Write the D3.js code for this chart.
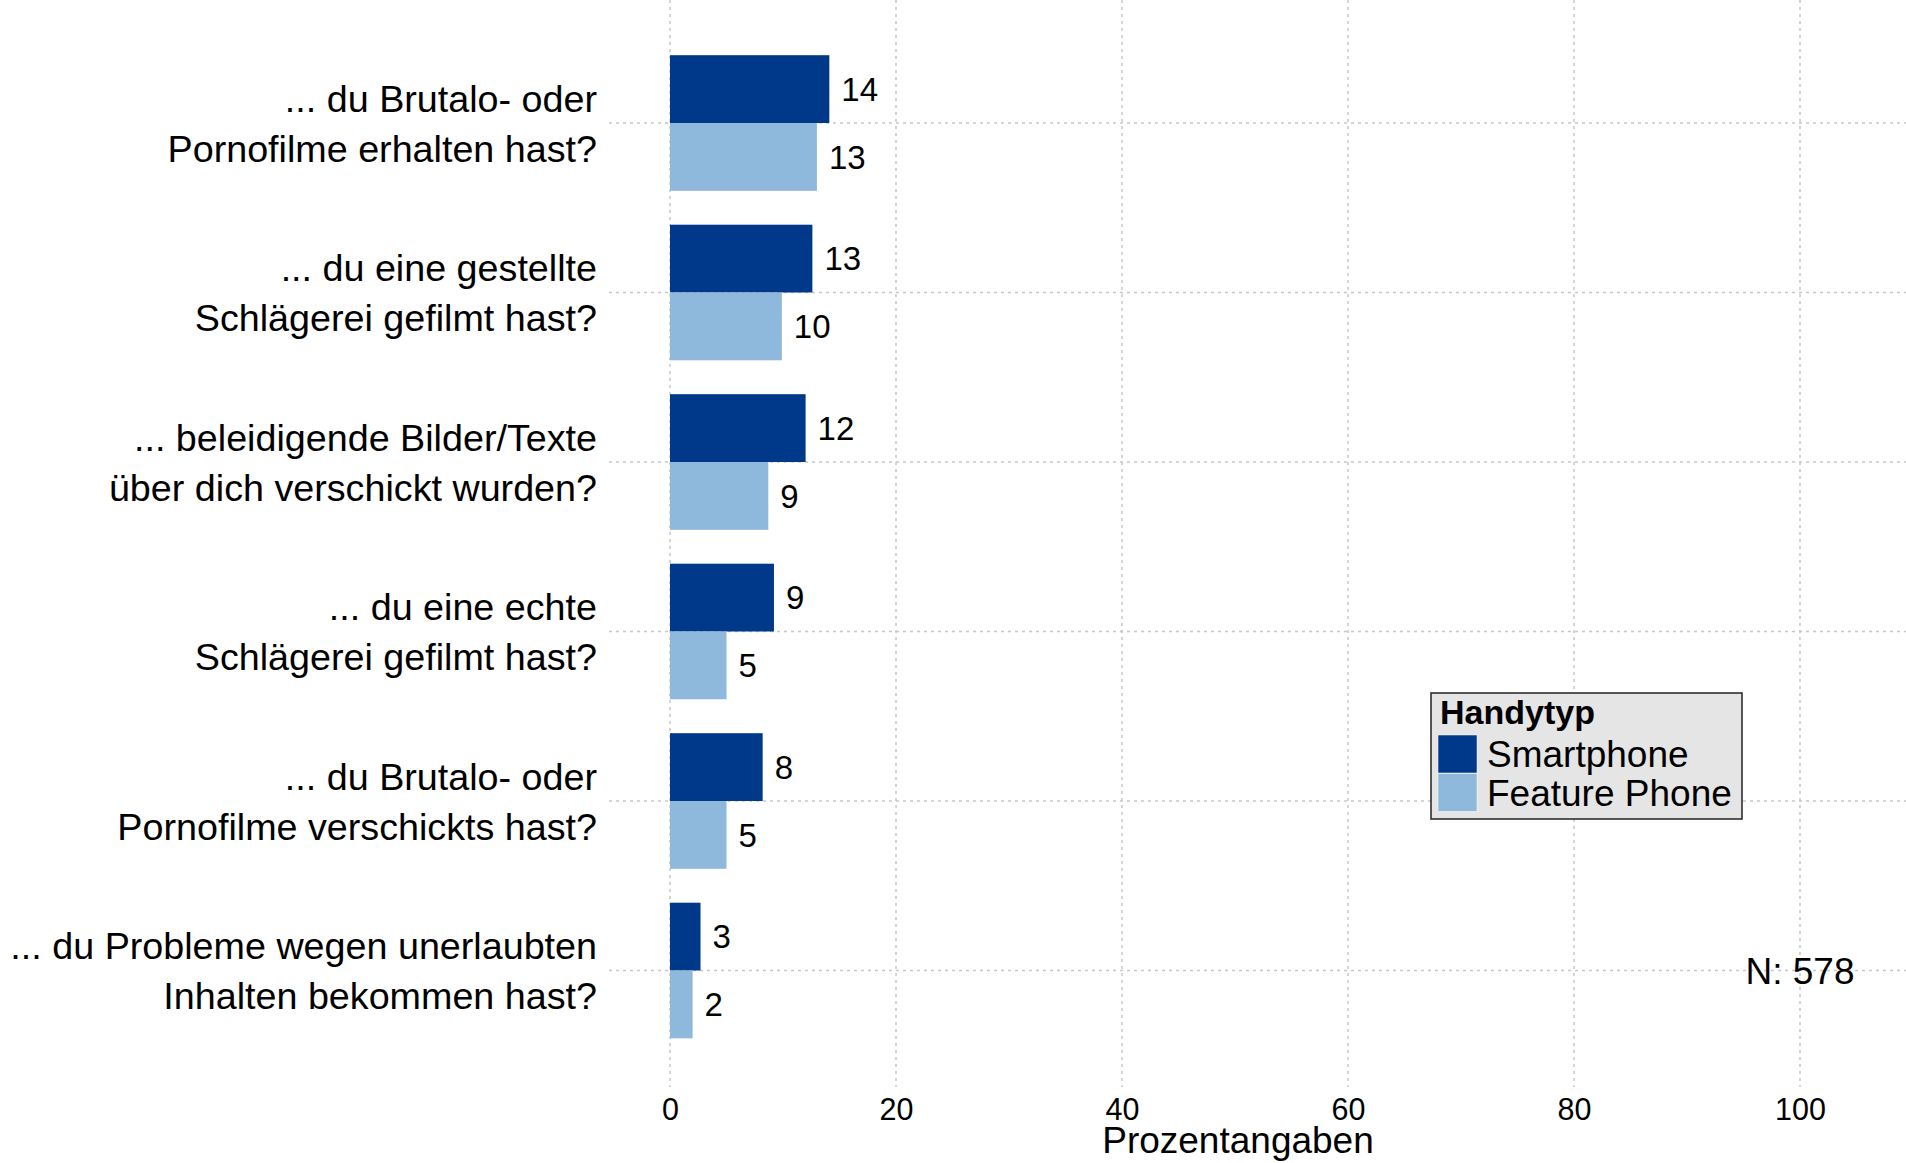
<!DOCTYPE html>
<html>
<head>
<meta charset="utf-8">
<script src="https://cdn.jsdelivr.net/npm/d3@7"></script>
<style>
  body { margin: 0; background: #fff; }
  svg text { font-family: "Liberation Sans", Arial, sans-serif; fill: #000; }
  .grid line { stroke: #c8c8c8; stroke-width: 1.5; stroke-dasharray: 3,4; }
</style>
</head>
<body>
<svg id="chart" width="1906" height="1163"></svg>
<script>
// Data
const questions = [
  ["... du Brutalo- oder", "Pornofilme erhalten hast?"],
  ["... du eine gestellte", "Schlägerei gefilmt hast?"],
  ["... beleidigende Bilder/Texte", "über dich verschickt wurden?"],
  ["... du eine echte", "Schlägerei gefilmt hast?"],
  ["... du Brutalo- oder", "Pornofilme verschickts hast?"],
  ["... du Probleme wegen unerlaubten", "Inhalten bekommen hast?"]
];
const smartphone = [14.1, 12.6, 12.0, 9.2, 8.2, 2.7];
const featurePhone = [13.0, 9.9, 8.7, 5.0, 5.0, 2.0];
const seriesNames = ["Smartphone", "Feature Phone"];
const seriesColors = ["#00388a", "#8eb9dd"];
const xTicks = [0, 20, 40, 60, 80, 100];
const sampleNote = "N: 578";

/*** Layout ***/
const svg = d3.select("#chart");
const W = 1906, H = 1163;
const panel = {left: 609, right: W, top: 0, bottom: 1087};

const x = d3.scaleLinear().domain([0, 100]).range([670, 1800]);
const y = d3.scaleBand()
    .domain(d3.range(questions.length))
    .range([38.25, 1055.25])
    .paddingInner(0.2)
    .paddingOuter(0.1);
const ySub = d3.scaleBand().domain([0, 1]).range([0, y.bandwidth()]);

const rows = questions.map((q, i) => ({
  i: i,
  label: q,
  values: [smartphone[i], featurePhone[i]]
}));

// Grid
const grid = svg.append("g").attr("class", "grid");
grid.selectAll(".v").data(xTicks).enter()
    .append("line")
        .attr("x1", d => x(d)).attr("x2", d => x(d))
        .attr("y1", panel.top).attr("y2", panel.bottom);
grid.selectAll(".h").data(rows).enter()
    .append("line")
        .attr("x1", panel.left).attr("x2", panel.right)
        .attr("y1", d => y(d.i) + y.bandwidth() / 2)
        .attr("y2", d => y(d.i) + y.bandwidth() / 2);

// Bars
const group = svg.selectAll(".row").data(rows).enter()
    .append("g")
        .attr("class", "row")
        .attr("transform", d => "translate(0," + y(d.i) + ")");
group.selectAll("rect")
    .data(d => d.values.map((v, s) => ({v: v, s: s})))
    .enter().append("rect")
        .attr("x", x(0))
        .attr("y", d => ySub(d.s))
        .attr("width", d => x(d.v) - x(0))
        .attr("height", ySub.bandwidth())
        .attr("fill", d => seriesColors[d.s]);
group.selectAll(".val")
    .data(d => d.values.map((v, s) => ({v: v, s: s})))
    .enter().append("text")
        .attr("class", "val")
        .attr("x", d => x(d.v) + 12)
        .attr("y", d => ySub(d.s) + ySub.bandwidth() / 2)
        .attr("dy", "0.36em")
        .style("font-size", "33px")
        .text(d => Math.round(d.v));

// Category labels (two lines each)
group.append("text")
    .attr("text-anchor", "end")
    .style("font-size", "37.7px")
    .selectAll("tspan")
    .data(d => d.label)
    .enter().append("tspan")
        .attr("x", 597)
        .attr("y", (d, k) => y.bandwidth() / 2 - 11 + k * 50)
        .text(d => d);

// X axis
const axis = svg.append("g")
    .attr("transform", "translate(0," + panel.bottom + ")")
    .call(d3.axisBottom(x).tickValues(xTicks).tickSize(0));
axis.select(".domain").remove();
axis.selectAll("text")
    .attr("y", 33)
    .attr("dy", null)
    .style("font-size", "30.5px")
    .style("font-family", "'Liberation Sans', Arial, sans-serif")
    .attr("fill", "#000");

svg.append("text")
    .attr("x", (x(0) + x(100)) / 2 + 3)
    .attr("y", 1153)
    .attr("text-anchor", "middle")
    .style("font-size", "37px")
    .text("Prozentangaben");

// Sample size note
svg.append("text")
    .attr("x", x(100))
    .attr("y", y(questions.length - 1) + y.bandwidth() / 2)
    .attr("dy", "0.36em")
    .attr("text-anchor", "middle")
    .style("font-size", "37px")
    .text(sampleNote);

// Legend
const legend = svg.append("g").attr("transform", "translate(1431,693)");
legend.append("rect")
    .attr("width", 311).attr("height", 126)
    .attr("fill", "#e5e5e5")
    .attr("stroke", "#222").attr("stroke-width", 1.5);
legend.append("text")
    .attr("x", 9).attr("y", 31)
    .style("font-size", "34px")
    .style("font-weight", "bold")
    .text("Handytyp");
const item = legend.selectAll(".item").data(seriesNames).enter()
    .append("g")
        .attr("class", "item")
        .attr("transform", (d, s) => "translate(7," + (42 + s * 38.5) + ")");
item.append("rect")
    .attr("width", 39).attr("height", 38)
    .attr("fill", (d, s) => seriesColors[s])
    .attr("stroke", "#fff").attr("stroke-width", 0.5);
item.append("text")
    .attr("x", 49).attr("y", 19)
    .attr("dy", "0.36em")
    .style("font-size", "37px")
    .text(d => d);
</script>
</body>
</html>
